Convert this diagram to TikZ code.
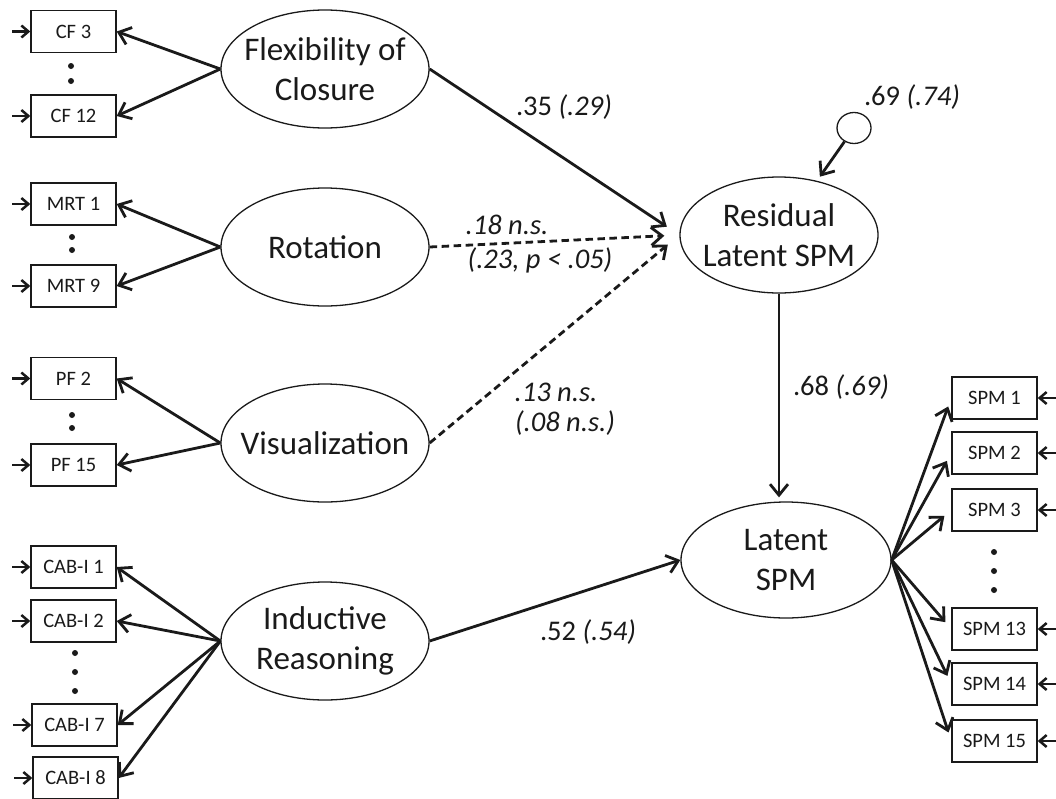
\documentclass[tikz,border=0pt]{standalone}
\usepackage{fontspec}
\setmainfont{Carlito}
\usetikzlibrary{shapes.geometric,arrows.meta}
\definecolor{ink}{HTML}{1A1A1A}
\begin{document}
\begin{tikzpicture}[x=1pt,y=-1pt,
  latent/.style={ellipse,draw=ink,line width=1.3pt,minimum width=208pt,minimum height=118pt,
    inner xsep=-40pt,inner ysep=-20pt,align=center,font=\fontsize{33}{40}\selectfont,text=ink},
  indicator/.style={rectangle,draw=ink,line width=1.4pt,minimum width=85pt,minimum height=42pt,
    inner sep=0pt,font=\fontsize{20.5}{22}\selectfont,text=ink},
  residual/.style={ellipse,draw=ink,line width=1.3pt,minimum width=34pt,minimum height=31pt,inner sep=0pt},
  loading/.style={line width=2.8pt,draw=ink,-{Straight Barb[length=11pt,width=18pt]}},
  dashpath/.style={loading,dash pattern=on 7.5pt off 4.5pt},
  errin/.style={line width=2.5pt,draw=ink,-{Straight Barb[length=7pt,width=12pt]}},
  coef/.style={font=\fontsize{28.5}{32}\selectfont,text=ink,inner sep=0pt,align=center},
  vdot/.style={circle,fill=ink,minimum size=6pt,inner sep=0pt}]
\useasboundingbox (0,0) rectangle (1056,798);

% latent factors
\node[latent] (foc) at (325,69)  {Flexibility of\\Closure};
\node[latent] (rot) at (325,247) {Rotation};
\node[latent] (vis) at (325,443) {Visualization};
\node[latent] (ind) at (325,641) {Inductive\\Reasoning};
\node[latent,minimum width=198pt,minimum height=116pt] (res) at (779,235) {Residual\\Latent SPM};
\node[latent,minimum width=210pt,minimum height=116pt] (lat) at (786,560) {Latent\\SPM};
\node[residual] (err) at (854,128) {};

% left indicators
\node[indicator] (cf3)  at (73.5,31.5) {CF 3};
\node[indicator] (cf12) at (73.5,116)  {CF 12};
\node[indicator] (mrt1) at (73.5,204)  {MRT 1};
\node[indicator] (mrt9) at (73.5,286)  {MRT 9};
\node[indicator] (pf2)  at (73.5,378.5){PF 2};
\node[indicator] (pf15) at (73.5,465)  {PF 15};
\node[indicator] (cab1) at (73.5,567)  {CAB-I 1};
\node[indicator] (cab2) at (73.5,621)  {CAB-I 2};
\node[indicator] (cab7) at (74.5,725)  {CAB-I 7};
\node[indicator] (cab8) at (75.5,778)  {CAB-I 8};

% right indicators
\node[indicator] (spm1)  at (994.5,398) {SPM 1};
\node[indicator] (spm2)  at (994.5,453) {SPM 2};
\node[indicator] (spm3)  at (994.5,510) {SPM 3};
\node[indicator] (spm13) at (994.5,629) {SPM 13};
\node[indicator] (spm14) at (994.5,684) {SPM 14};
\node[indicator] (spm15) at (994.5,741) {SPM 15};

% ellipsis dots
\node[vdot] (d1) at (71,66) {};  \node[vdot] (d2) at (71,81) {};
\node[vdot] (d3) at (72,237) {}; \node[vdot] (d4) at (72,250) {};
\node[vdot] (d5) at (72,415) {}; \node[vdot] (d6) at (72,428) {};
\node[vdot] (d7) at (75,653) {}; \node[vdot] (d8) at (75,672) {}; \node[vdot] (d9) at (75,691) {};
\node[vdot] (d10) at (994,552) {}; \node[vdot] (d11) at (994,571) {}; \node[vdot] (d12) at (994,590) {};

% measurement paths
\foreach \b in {cf3,cf12} \draw[loading] (foc.west) -- (\b.east);
\foreach \b in {mrt1,mrt9} \draw[loading] (rot.west) -- (\b.east);
\foreach \b in {pf2,pf15} \draw[loading] (vis.west) -- (\b.east);
\foreach \b in {cab1,cab2,cab7,cab8} \draw[loading] (ind.west) -- (\b.east);
\foreach \b in {spm1,spm2,spm3,spm13,spm14,spm15} \draw[loading,shorten >=9pt] (lat.east) -- (\b.west);

% error terms of indicators
\foreach \b in {cf3,cf12,mrt1,mrt9,pf2,pf15,cab1,cab2,cab7,cab8}
  \draw[errin] ([xshift=-18pt]\b.west) -- (\b.west);
\foreach \b in {spm1,spm2,spm3,spm13,spm14,spm15}
  \draw[errin] ([xshift=19pt]\b.east) -- (\b.east);

% structural paths
\draw[loading,shorten >=15pt] (foc.east) -- (res.west);
\draw[dashpath,shorten >=15pt] (rot.east) -- (res.west);
\draw[dashpath,shorten >=15pt] (vis.east) -- (res.west);
\draw[loading,shorten >=4pt] (res.south) -- (res.south |- lat.north);
\draw[loading] (ind.east) -- (lat.west);
\draw[loading,shorten >=5pt] (err) -- (res);

% coefficients
\node[coef] (c1) at (564,107) {.35 \textit{(.29)}};
\node[coef] (c2) at (507,225) {\textit{.18 n.s.}};
\node[coef] (c3) at (540,260) {\textit{(.23, p < .05)}};
\node[coef] (c4) at (556,392) {\textit{.13 n.s.}};
\node[coef] (c5) at (565,423) {\textit{(.08 n.s.)}};
\node[coef] (c6) at (841,387) {.68 \textit{(.69)}};
\node[coef] (c7) at (588,632) {.52 \textit{(.54)}};
\node[coef] (c8) at (912,97)  {.69 \textit{(.74)}};
\end{tikzpicture}
\end{document}
